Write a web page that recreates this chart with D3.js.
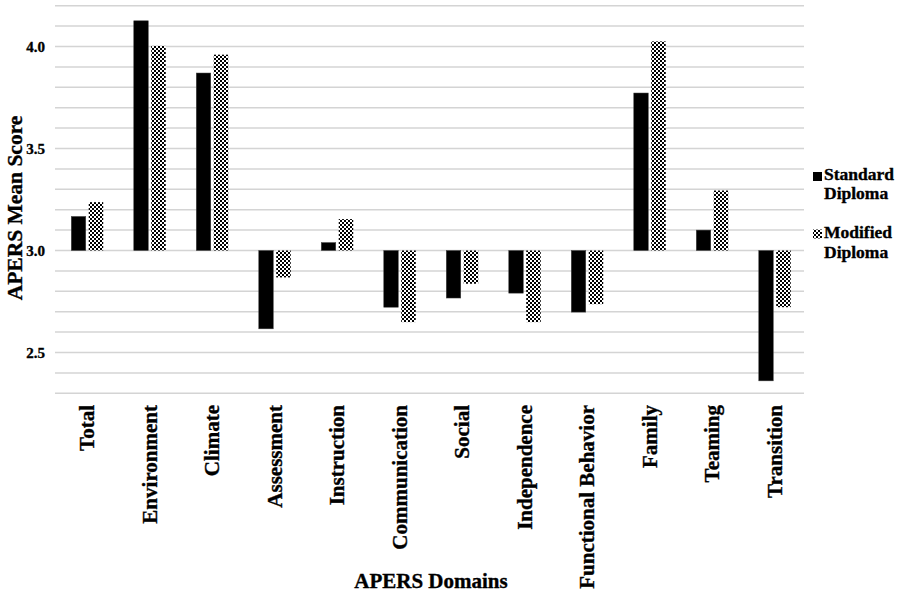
<!DOCTYPE html>
<html>
<head>
<meta charset="utf-8">
<script src="https://cdn.jsdelivr.net/npm/d3@7"></script>
<style>
  html, body { margin: 0; padding: 0; background: #fff; }
  svg { display: block; }
  text { font-family: "Liberation Serif", "Times New Roman", serif; font-weight: bold; fill: #000; stroke: #000; stroke-width: 0.35px; }
</style>
</head>
<body>
<svg id="chart" width="900" height="594"></svg>
<script>
const categories = ["Total", "Environment", "Climate", "Assessment", "Instruction", "Communication",
  "Social", "Independence", "Functional Behavior", "Family", "Teaming", "Transition"];
const seriesNames = ["Standard Diploma", "Modified Diploma"];
const standardValues = [3.167, 4.126, 3.870, 2.616, 3.039, 2.722, 2.767, 2.791, 2.698, 3.772, 3.100, 2.361];
const modifiedValues = [3.237, 4.003, 3.960, 2.868, 3.154, 2.649, 2.837, 2.649, 2.737, 4.025, 3.294, 2.722];
const tickLabels = [2.5, 3.0, 3.5, 4.0];
const gridValues = d3.range(23, 43).map(d => d / 10);
const baseValue = 3.0;

const svg = d3.select("#chart");
const defs = svg.append("defs");
const pat = defs.append("pattern").attr("id", "checker")
  .attr("patternUnits", "userSpaceOnUse").attr("width", 4).attr("height", 4);
pat.append("rect").attr("width", 4).attr("height", 4).attr("fill", "#fff");
pat.append("rect").attr("x", 0).attr("y", 0).attr("width", 2).attr("height", 2).attr("fill", "#000");
pat.append("rect").attr("x", 2).attr("y", 2).attr("width", 2).attr("height", 2).attr("fill", "#000");

const x = d3.scaleBand().domain(categories).range([56, 806]).padding(0);
const xs = d3.scaleBand().domain(seriesNames).range([0, x.bandwidth()])
  .paddingInner(0.17).paddingOuter(0.874);
const y = d3.scaleLinear().domain([2.3, 4.2]).range([393.3, 5.7]);

// gridlines
svg.append("g").selectAll("line").data(gridValues).join("line")
  .attr("x1", 55).attr("x2", 804)
  .attr("y1", d => y(d)).attr("y2", d => y(d))
  .attr("stroke", "#d4d4d4").attr("stroke-width", 1.5);

// y axis labels
const yAxis = d3.axisLeft(y).tickValues(tickLabels).tickFormat(d3.format(".1f")).tickSize(0).tickPadding(0);
const ya = svg.append("g").attr("transform", "translate(45,0)").call(yAxis);
ya.select(".domain").remove();
ya.selectAll("text").style("font-family", "'Liberation Serif', serif").style("font-weight", "bold")
  .style("font-size", "15px").attr("fill", "#000");

// bars
const series = [
  { name: seriesNames[0], values: standardValues, fill: "#000" },
  { name: seriesNames[1], values: modifiedValues, fill: "url(#checker)" }
];
series.forEach(s => {
  svg.append("g").selectAll("rect").data(categories).join("rect")
    .attr("x", (c) => x(c) + xs(s.name))
    .attr("width", xs.bandwidth())
    .attr("y", (c, i) => Math.min(y(s.values[i]), y(baseValue)))
    .attr("height", (c, i) => Math.abs(y(s.values[i]) - y(baseValue)))
    .attr("fill", s.fill)
    .attr("stroke", s.name === seriesNames[0] ? "#444" : "none")
    .attr("stroke-width", 0.5);
});

// x axis labels
const xAxis = d3.axisBottom(x).tickSize(0).tickPadding(0);
const xa = svg.append("g").attr("transform", "translate(0,405)").call(xAxis);
xa.select(".domain").remove();
xa.selectAll("text")
  .attr("transform", "rotate(-90)")
  .attr("text-anchor", "end")
  .attr("x", 0).attr("y", 0).attr("dy", "0.33em")
  .style("font-family", "'Liberation Serif', serif").style("font-weight", "bold")
  .style("font-size", "21px").attr("fill", "#000");

// axis titles
svg.append("text").attr("transform", "translate(22,208) rotate(-90)")
  .attr("text-anchor", "middle").style("font-size", "21.5px").text("APERS Mean Score");
svg.append("text").attr("x", 431).attr("y", 588)
  .attr("text-anchor", "middle").style("font-size", "21px").text("APERS Domains");

// legend
const legend = svg.append("g");
const legendItems = [
  { lines: ["Standard", "Diploma"], fill: "#000", sy: 172, ty: 179.5 },
  { lines: ["Modified", "Diploma"], fill: "url(#checker)", sy: 229.5, ty: 238 }
];
legendItems.forEach(li => {
  legend.append("rect").attr("x", 813).attr("y", li.sy).attr("width", 9).attr("height", 9).attr("fill", li.fill);
  li.lines.forEach((ln, k) => {
    legend.append("text").attr("x", 824).attr("y", li.ty + k * 19.5)
      .style("font-size", "17.5px").text(ln);
  });
});
</script>
</body>
</html>
